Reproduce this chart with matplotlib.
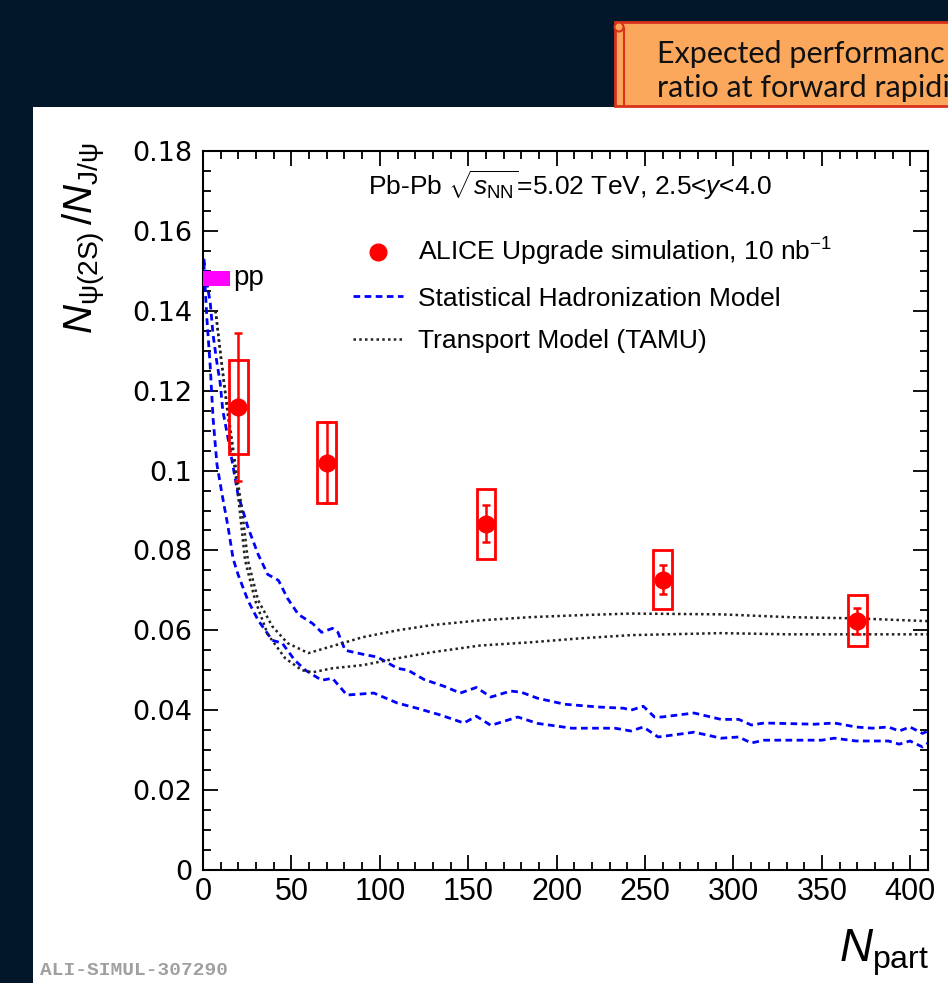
import numpy as np
import matplotlib
matplotlib.use("Agg")
import matplotlib.pyplot as plt
from matplotlib.patches import Rectangle, Ellipse
from matplotlib.lines import Line2D
from matplotlib.ticker import MultipleLocator, FuncFormatter

plt.rcParams['font.family'] = ['Liberation Sans', 'DejaVu Sans']
plt.rcParams['mathtext.fontset'] = 'custom'
plt.rcParams['mathtext.rm'] = 'Liberation Sans'
plt.rcParams['mathtext.it'] = 'Liberation Sans:italic'
plt.rcParams['mathtext.bf'] = 'Liberation Sans:bold'

# ALICE simulated points
npart = [20, 70, 160, 260, 370]
ratio = [0.116, 0.102, 0.0867, 0.0727, 0.0624]
stat_err = [0.0185, 0.0102, 0.0047, 0.0037, 0.0032]
syst_err = [0.0118, 0.0102, 0.0088, 0.0073, 0.0064]

# pp reference
pp_val = 0.1481
pp_err = 0.0019
pp_width = 15

# Statistical Hadronization Model band (upper / lower edge)
shm_hi_x = [0.5, 2.2, 4.1, 5.7, 7.7, 9.7, 11.2, 14.2, 17, 19.8, 25.4, 31.2, 36.6, 42.7, 47.8,
            53.9, 62, 67.1, 73.2, 76.3, 80.4, 90.5, 98.7, 109.9, 116, 125, 136.3, 145.5, 154.6,
            162.8, 174, 180, 189.2, 204.5, 223.8, 238, 242, 249, 255.3, 259.4, 277.7, 293, 303,
            310, 317.4, 345.9, 357, 369.3, 378.4, 387.6, 393.7, 399.8, 406.9, 410]
shm_hi_y = [0.153, 0.147, 0.142, 0.134, 0.1275, 0.122, 0.115, 0.108, 0.101, 0.094, 0.0858, 0.079,
            0.074, 0.0725, 0.068, 0.064, 0.0617, 0.0595, 0.0605, 0.0595, 0.055, 0.054, 0.0533,
            0.0505, 0.050, 0.0477, 0.046, 0.0443, 0.0457, 0.0433, 0.0448, 0.0445, 0.043, 0.0415,
            0.0408, 0.0405, 0.040, 0.041, 0.0383, 0.0383, 0.0393, 0.0377, 0.0377, 0.0363, 0.0368,
            0.0365, 0.0368, 0.0358, 0.0355, 0.0358, 0.0348, 0.0358, 0.0342, 0.0348]
shm_lo_x = [0.5, 2.2, 4.1, 5.7, 7.9, 10.8, 14.2, 17, 19.8, 25.4, 31.2, 39.2, 44.8, 51.9, 58,
            67.1, 73.2, 81.4, 96.6, 109.9, 121, 134.3, 147.5, 154.6, 162.8, 178, 189.2, 208.5,
            233, 242, 249, 257.4, 277.7, 293, 303, 310, 317.4, 350, 357, 369.3, 387.6, 393.7,
            399.8, 406.9, 410]
shm_lo_y = [0.152, 0.138, 0.126, 0.113, 0.1015, 0.094, 0.0858, 0.078, 0.074, 0.0675, 0.0625,
            0.0575, 0.0568, 0.0525, 0.050, 0.0475, 0.048, 0.0438, 0.0443, 0.0418, 0.0405, 0.0388,
            0.0368, 0.0385, 0.0362, 0.0383, 0.0367, 0.0355, 0.0355, 0.0348, 0.0358, 0.0333,
            0.0345, 0.033, 0.0333, 0.0318, 0.0325, 0.0325, 0.033, 0.0323, 0.0323, 0.0315, 0.0323,
            0.0308, 0.0318]

# Transport model (TAMU) band
tamu_hi_x = [7.1, 9.7, 12.5, 15.3, 18.3, 22.1, 25.4, 31.2, 39.2, 47.8, 59.6, 71.2, 90.5, 109.9,
             129.2, 156.7, 185.1, 213.6, 242, 293, 331.6, 369.3, 410]
tamu_hi_y = [0.140, 0.130, 0.120, 0.111, 0.1015, 0.090, 0.0775, 0.0675, 0.061, 0.0568, 0.0543,
             0.0558, 0.0583, 0.060, 0.0613, 0.0625, 0.0633, 0.0638, 0.0642, 0.064, 0.0633, 0.063,
             0.0623]
tamu_lo_x = [7.1, 10.2, 13.2, 16.3, 19.3, 23.8, 29.5, 36.6, 46.5, 56, 62, 73.2, 90.5, 109.9,
             129.2, 156.7, 185.1, 213.6, 242, 293, 331.6, 410]
tamu_lo_y = [0.140, 0.128, 0.117, 0.106, 0.096, 0.0775, 0.0675, 0.059, 0.053, 0.050, 0.0495,
             0.0505, 0.0513, 0.053, 0.0545, 0.0562, 0.057, 0.058, 0.0588, 0.0593, 0.059, 0.059]

W, H = 948, 983
fig = plt.figure(figsize=(W / 100, H / 100), dpi=100)
fig.patch.set_facecolor('#02172a')

# white slide panel (behind the axes)
fig.patches.append(Rectangle((33 / W, 0), 1 - 33 / W, 1 - 107 / H, transform=fig.transFigure,
                             facecolor='white', edgecolor='none', zorder=-5))

# orange callout (scroll), cropped by the slide edge
fig.patches.append(Rectangle((615 / W, 1 - 106 / H), 1, 84 / H, transform=fig.transFigure,
                             facecolor='#fba75c', edgecolor='#d8321a', lw=2, zorder=1))
fig.lines.append(Line2D([624 / W, 624 / W], [1 - 104 / H, 1 - 28 / H], transform=fig.transFigure,
                        color='#d8321a', lw=1.5, zorder=2))
fig.patches.append(Ellipse((619 / W, 1 - 27 / H), 9 / W, 9 / H, transform=fig.transFigure,
                           facecolor='#fba75c', edgecolor='#d8321a', lw=1.5, zorder=2))
fig.text(657 / W, 1 - 63 / H, 'Expected performanc', fontsize=22,
         family='Lato', color='#111111', va='baseline', zorder=3)
fig.text(657 / W, 1 - 97 / H, 'ratio at forward rapidi', fontsize=22,
         family='Lato', color='#111111', va='baseline', zorder=3)

ax = fig.add_axes([203 / W, 1 - 870 / H, (928 - 203) / W, (870 - 151) / H], zorder=2)
ax.set_facecolor('white')
ax.set_xlim(0, 410)
ax.set_ylim(0, 0.18)

# models
ax.plot(shm_hi_x, shm_hi_y, color='#0000ff', lw=2, ls=(0, (2.4, 1.6)))
ax.plot(shm_lo_x, shm_lo_y, color='#0000ff', lw=2, ls=(0, (2.4, 1.6)))
ax.plot(tamu_hi_x, tamu_hi_y, color='#222222', lw=1.8, ls=(0, (1, 1.3)))
ax.plot(tamu_lo_x, tamu_lo_y, color='#222222', lw=1.8, ls=(0, (1, 1.3)))

# pp reference box
ax.add_patch(Rectangle((0, pp_val - pp_err), pp_width, 2 * pp_err, facecolor='#ff00ff',
                       edgecolor='none', zorder=4))
ax.text(17, pp_val, 'pp', fontsize=20, va='center', ha='left')

# systematic boxes
for x, y, s in zip(npart, ratio, syst_err):
    ax.add_patch(Rectangle((x - 5.3, y - s), 10.6, 2 * s, facecolor='none',
                           edgecolor='#ff0000', lw=2, zorder=5))
ax.errorbar(npart, ratio, yerr=stat_err, fmt='none', ecolor='#ff0000', elinewidth=1.8,
            capsize=3, capthick=1.8, zorder=6)
ax.plot(npart, ratio, 'o', color='#ff0000', ms=12, zorder=7)

# axes style
ax.xaxis.set_major_locator(MultipleLocator(50))
ax.xaxis.set_minor_locator(MultipleLocator(10))
ax.yaxis.set_major_locator(MultipleLocator(0.02))
ax.yaxis.set_minor_locator(MultipleLocator(0.005))
ax.yaxis.set_major_formatter(FuncFormatter(lambda v, p: '%g' % round(v, 3)))
ax.tick_params(which='both', direction='in', top=True, right=True, width=1.3)
ax.tick_params(which='major', length=11, pad=6)
ax.tick_params(which='minor', length=6)
ax.tick_params(axis='x', which='major', labelsize=22, pad=5)
ax.tick_params(axis='y', which='major', labelsize=19.5, pad=8)
for lab in ax.get_yticklabels():
    lab.set_family('DejaVu Sans')
for sp in ax.spines.values():
    sp.set_linewidth(1.5)

# axis titles
fig.text(84 / W, 1 - 143 / H, r'$N_{\mathrm{\psi(2S)}}\,/N_{\mathrm{J/\psi}}$', fontsize=29,
         rotation=90, ha='center', va='top')
fig.text(929 / W, 1 - 962 / H, r'$N_{\mathrm{part}}$', fontsize=33, ha='right', va='baseline')
fig.text(40 / W, 1 - 975 / H, 'ALI-SIMUL-307290', fontsize=14, family='Liberation Mono',
         weight='bold', color='#a0a0a0', va='baseline')

# legend
ax.text((368 - 203) / 725, (870 - 185) / 719,
        r'Pb-Pb $\sqrt{s_{\mathrm{NN}}}$=5.02 TeV, 2.5<$y$<4.0', fontsize=19,
        va='center', ha='left', transform=ax.transAxes)
handles = [Line2D([], [], ls='none', marker='o', ms=12, color='#ff0000'),
           Line2D([], [], color='#0000ff', lw=2, ls=(0, (2.4, 1.6))),
           Line2D([], [], color='#222222', lw=1.8, ls=(0, (1, 1.3)))]
labels = [r'ALICE Upgrade simulation, 10 nb$^{-1}$', 'Statistical Hadronization Model',
          'Transport Model (TAMU)']
ax.legend(handles, labels, loc='upper left', bbox_to_anchor=((353 - 203) / 725, (870 - 236) / 719),
          frameon=False, fontsize=19, handlelength=1.9, handletextpad=0.55, labelspacing=0.7,
          borderpad=0, borderaxespad=0)

fig.savefig('out.png', dpi=100, facecolor=fig.get_facecolor())
